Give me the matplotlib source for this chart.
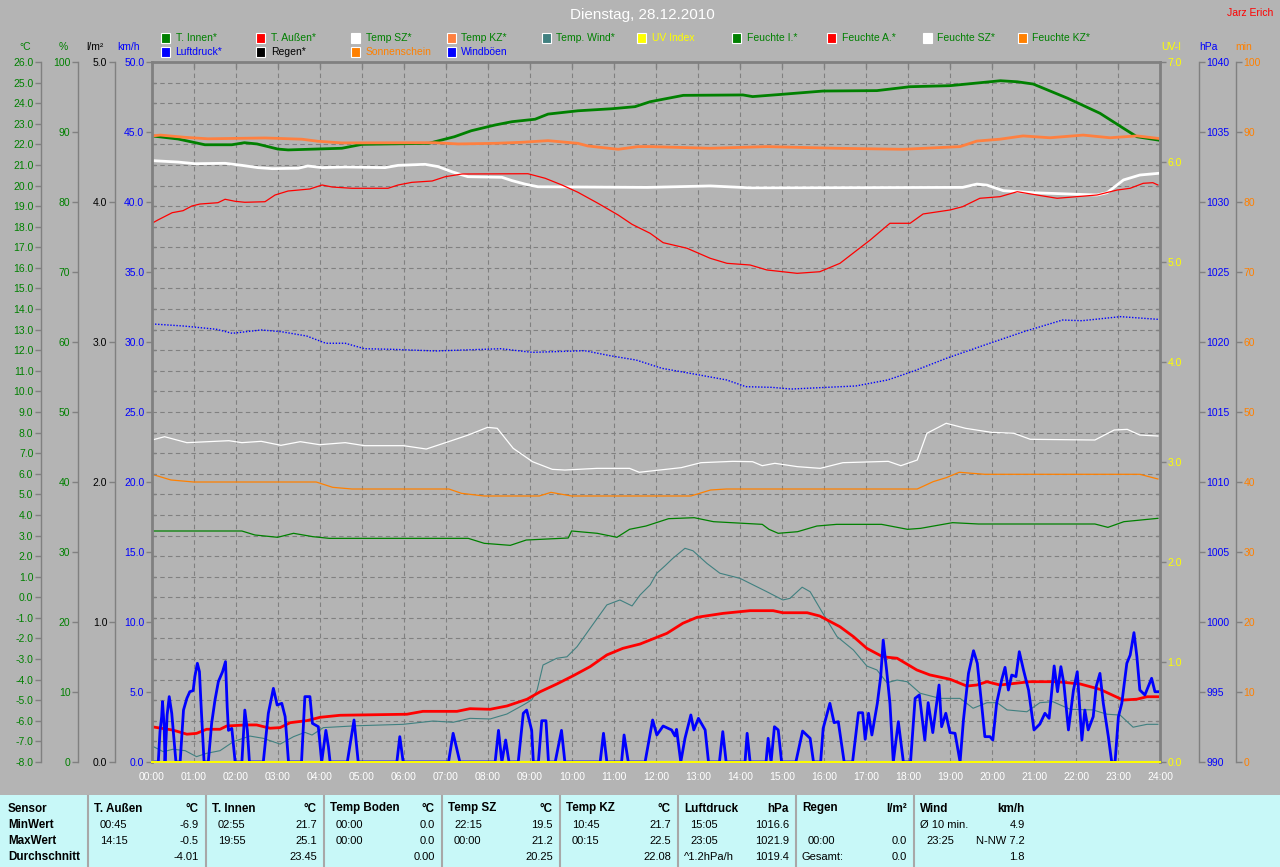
import numpy as np
import matplotlib
matplotlib.use('Agg')
import matplotlib.pyplot as plt
from matplotlib.ticker import FixedLocator, FuncFormatter, NullLocator
from matplotlib.patches import Rectangle
from matplotlib.lines import Line2D

# ---------------- data ----------------
T_INNEN_H = [0, 0.62, 1.26, 1.9, 2.2, 2.5, 3.0, 3.24, 4.52, 5.0, 6.6, 6.74, 7.2, 7.6, 8.17, 8.57, 9.12, 9.43,
             10.14, 10.95, 11.5, 11.86, 12.65, 14.07, 14.3, 15.0, 15.98, 17.26, 18.05, 19.0, 19.8, 20.2, 20.6,
             20.98, 21.8, 22.57, 23.13, 23.45, 23.95]
T_INNEN = [22.41, 22.26, 21.98, 21.98, 22.08, 22.02, 21.77, 21.73, 21.81, 22.0, 22.05, 22.13, 22.37, 22.66,
           22.94, 23.1, 23.22, 23.47, 23.63, 23.73, 23.83, 24.07, 24.38, 24.40, 24.32, 24.43, 24.59, 24.61,
           24.8, 24.85, 25.01, 25.09, 25.04, 24.93, 24.24, 23.51, 22.78, 22.37, 22.21]

T_KZ_H = [0, 0.2, 0.79, 1.33, 2.69, 3.57, 3.95, 4.52, 6.74, 7.29, 8.17, 8.8, 9.43, 10.14, 10.38, 11.1, 11.57,
          11.86, 13.29, 14.64, 16.3, 17.88, 19.24, 19.64, 20.19, 20.74, 21.38, 22.17, 22.81, 23.45, 23.95]
T_KZ = [22.41, 22.45, 22.34, 22.27, 22.31, 22.25, 22.15, 22.07, 22.08, 22.02, 22.05, 22.10, 22.18, 22.05,
        21.92, 21.76, 21.89, 21.89, 21.81, 21.89, 21.81, 21.76, 21.89, 22.16, 22.25, 22.41, 22.32, 22.45,
        22.32, 22.41, 22.29]

T_SZ_H = [0, 0.62, 1.02, 1.74, 2.14, 2.52, 2.86, 3.48, 3.71, 4.05, 4.6, 5.55, 5.86, 6.5, 6.81, 7.14, 7.52,
          8.33, 8.57, 8.88, 9.19, 11.8, 13.29, 14.24, 19.3, 19.64, 19.88, 20.27, 20.98, 22.5, 22.74, 23.13,
          23.52, 23.95]
T_SZ = [21.21, 21.14, 21.06, 21.08, 20.98, 20.87, 20.82, 20.84, 20.95, 20.87, 20.90, 20.87, 20.98, 21.03,
        20.92, 20.67, 20.43, 20.40, 20.24, 20.07, 19.94, 19.91, 19.98, 19.89, 19.91, 20.07, 20.02, 19.75,
        19.65, 19.54, 19.65, 20.27, 20.51, 20.59]

T_AUSSEN_H = [0, 0.5, 0.83, 1.06, 1.3, 1.62, 1.78, 2.25, 2.49, 2.81, 3.05, 3.29, 3.69, 4.0, 4.48, 6.07, 6.45,
              7.26, 7.57, 8.05, 8.45, 8.93, 9.24, 9.64, 10.02, 10.43, 10.83, 11.21, 11.62, 12.26, 12.64, 12.98,
              13.6, 14.24, 14.79, 15.02, 15.6, 15.9, 16.38, 16.7, 17.02, 17.4, 17.74, 18.21, 18.52, 19.0, 19.4,
              19.64, 19.88, 20.19, 20.9, 21.55, 22.1, 22.57, 23.12, 23.45, 23.69, 23.95]
T_AUSSEN = [-6.29, -6.45, -6.65, -6.61, -6.41, -6.41, -6.25, -6.2, -6.2, -6.36, -6.33, -6.09, -5.99, -5.83,
            -5.73, -5.68, -5.54, -5.54, -5.41, -5.44, -5.28, -4.95, -4.59, -4.21, -3.82, -3.37, -2.8, -2.48,
            -2.27, -1.75, -1.26, -0.97, -0.78, -0.65, -0.65, -0.75, -0.75, -0.91, -1.43, -1.91, -2.48, -2.89,
            -2.96, -3.53, -3.77, -3.98, -4.31, -4.26, -4.1, -4.26, -4.1, -4.1, -4.21, -4.47, -4.99, -4.95,
            -4.83, -4.83]

T_WIND_H = [0, 0.27, 0.5, 0.79, 1.06, 1.3, 1.62, 1.94, 2.33, 2.65, 3.05, 3.37, 3.64, 3.81, 4.08, 4.87, 5.98,
            6.69, 7.17, 7.57, 8.05, 8.45, 8.84, 9.04, 9.17, 9.31, 9.64, 9.88, 10.12, 10.43, 10.83, 11.14, 11.43,
            11.62, 11.86, 12.02, 12.21, 12.4, 12.69, 12.88, 13.21, 13.52, 14.0, 14.64, 15.02, 15.19, 15.48,
            15.67, 15.95, 16.31, 16.7, 17.02, 17.26, 17.5, 17.74, 17.98, 18.29, 18.76, 19.24, 19.55, 19.88,
            20.12, 20.36, 20.83, 21.14, 21.45, 21.86, 22.4, 22.74, 23.05, 23.36, 23.69, 23.95]
T_WIND = [-7.22, -7.5, -7.38, -7.45, -7.74, -7.58, -7.45, -7.01, -6.74, -6.85, -7.13, -6.77, -6.56, -6.69,
          -6.33, -6.24, -6.17, -6.01, -6.07, -5.88, -5.91, -5.67, -5.23, -4.99, -4.5, -3.29, -2.96, -2.89,
          -2.4, -1.51, -0.37, -0.13, -0.42, 0.11, 0.6, 1.17, 1.52, 1.89, 2.38, 2.26, 1.65, 1.17, 0.92, 0.27,
          -0.13, -0.05, 0.49, 0.27, -0.7, -1.91, -2.56, -3.34, -3.53, -4.15, -4.02, -4.1, -4.66, -4.91, -4.91,
          -5.39, -5.12, -5.12, -5.47, -5.56, -5.12, -5.07, -5.44, -5.47, -5.68, -5.72, -6.31, -6.17, -6.17]

FEUCHTE_A_H = [0, 0.14, 0.48, 0.74, 0.95, 1.14, 1.57, 1.74, 1.98, 2.21, 2.69, 2.93, 3.24, 3.76, 4.05, 4.29,
               4.76, 5.62, 5.86, 6.19, 6.67, 6.98, 7.38, 8.95, 9.36, 9.76, 10.14, 10.62, 11.1, 11.43, 11.86,
               12.17, 12.74, 13.29, 13.69, 14.24, 14.64, 15.36, 15.9, 16.38, 16.79, 17.1, 17.57, 18.05, 18.36,
               19.0, 19.3, 19.71, 20.19, 20.6, 21.07, 21.55, 22.5, 22.98, 23.29, 23.6, 23.83, 23.95]
FEUCHTE_A = [76.96, 77.43, 78.47, 78.76, 79.43, 79.71, 79.9, 80.39, 80.1, 79.96, 80.04, 81.0, 81.57, 81.86,
             82.43, 82.14, 81.96, 81.96, 82.43, 82.81, 83.0, 83.61, 84.0, 84.04, 83.39, 82.43, 81.39, 79.81,
             78.14, 76.81, 75.53, 74.19, 73.39, 71.96, 71.24, 71.0, 70.29, 69.81, 70.04, 71.24, 73.14, 74.57,
             76.96, 76.96, 78.29, 78.86, 79.33, 80.53, 80.76, 81.47, 81.0, 80.53, 81.0, 81.71, 81.96, 82.67,
             82.76, 82.43]

FEUCHTE_SZ_H = [0, 0.3, 0.83, 1.83, 2.14, 2.6, 3.07, 3.53, 3.99, 4.6, 5.06, 5.99, 6.53, 7.06, 7.53, 7.99,
                8.22, 8.6, 9.06, 9.53, 9.83, 10.6, 11.37, 11.6, 12.6, 13.07, 13.83, 14.3, 14.53, 14.83, 15.37,
                15.91, 16.45, 17.53, 17.83, 18.22, 18.45, 18.91, 19.37, 19.98, 20.52, 20.91, 22.45, 22.91,
                23.22, 23.52, 23.95]
FEUCHTE_SZ = [46.0, 46.47, 45.62, 45.9, 45.62, 45.81, 45.24, 45.76, 45.33, 45.62, 45.19, 45.19, 44.71, 45.76,
              46.71, 47.81, 47.67, 44.81, 42.9, 41.81, 41.71, 41.95, 41.95, 41.39, 42.05, 42.76, 42.95, 42.9,
              42.33, 42.67, 42.19, 41.95, 42.76, 42.95, 42.33, 43.14, 46.96, 48.39, 47.67, 47.1, 46.96, 46.1,
              46.0, 47.43, 47.52, 46.71, 46.57]

FEUCHTE_KZ_H = [0, 0.45, 0.99, 3.91, 4.3, 4.76, 7.07, 7.37, 7.91, 9.22, 9.5, 9.99, 12.83, 13.3, 13.68, 18.22,
                18.6, 18.91, 19.22, 19.83, 23.52, 23.95]
FEUCHTE_KZ = [41.1, 40.29, 40.0, 40.0, 39.24, 39.0, 39.0, 38.38, 38.0, 38.0, 38.52, 38.0, 38.0, 38.86, 39.0,
              39.0, 40.05, 40.62, 41.39, 41.1, 41.1, 40.43]

FEUCHTE_I_H = [0, 2.14, 2.45, 2.99, 3.37, 3.83, 4.22, 7.53, 7.91, 8.53, 8.91, 9.91, 9.99, 10.6, 11.07, 11.37,
               11.76, 12.3, 12.91, 13.37, 14.53, 14.69, 14.91, 15.37, 15.83, 16.3, 17.37, 17.99, 18.3, 19.06,
               19.68, 22.45, 22.76, 23.14, 23.95]
FEUCHTE_I = [33.0, 33.0, 32.43, 32.1, 32.67, 32.19, 31.95, 31.95, 31.24, 30.95, 31.71, 32.0, 33.0, 32.67,
             32.1, 33.24, 33.71, 34.76, 34.9, 34.33, 33.95, 33.24, 32.67, 32.9, 33.71, 33.95, 33.95, 33.24,
             33.38, 34.19, 34.0, 34.0, 33.52, 34.33, 34.81]

LUFTDRUCK_H = [0, 0.76, 1.53, 1.91, 2.6, 3.07, 3.68, 4.14, 4.6, 5.06, 5.68, 6.76, 8.3, 9.06, 10.3, 10.91,
               11.53, 12.14, 12.91, 13.68, 14.14, 14.76, 15.22, 16.76, 17.52, 18.14, 18.91, 19.83, 20.76,
               21.68, 22.14, 23.06, 23.95]
LUFTDRUCK = [1021.29, 1021.14, 1020.91, 1020.62, 1020.86, 1020.74, 1020.43, 1019.91, 1019.91, 1019.52,
             1019.48, 1019.36, 1019.52, 1019.26, 1019.38, 1019.02, 1018.71, 1018.12, 1017.71, 1017.29,
             1016.81, 1016.76, 1016.64, 1016.86, 1017.29, 1017.93, 1018.83, 1019.79, 1020.74, 1021.57,
             1021.52, 1021.81, 1021.62]

WINDBOEEN = [(0, 0), (0.15, 0), (0.19, 2.17), (0.23, 3.24), (0.25, 4.31), (0.29, 2.52), (0.31, 0), (0.36, 3.36),
             (0.41, 4.67), (0.47, 3.48), (0.57, 0), (0.67, 0), (0.75, 3.71), (0.83, 4.55), (0.9, 5.02),
             (0.98, 5.1), (1.02, 6.1), (1.08, 7.05), (1.13, 6.45), (1.17, 3.95), (1.24, 0), (1.34, 0),
             (1.42, 2.76), (1.5, 4.43), (1.58, 5.74), (1.68, 6.45), (1.75, 7.17), (1.79, 3.95), (1.82, 2.26),
             (1.9, 2.4), (1.98, 0), (2.14, 0), (2.21, 3.71), (2.27, 2.26), (2.32, 0), (2.65, 0), (2.77, 3.48),
             (2.89, 5.26), (2.98, 4.07), (3.09, 4.19), (3.17, 3.24), (3.25, 0), (3.56, 0), (3.64, 4.67),
             (3.76, 4.67), (3.82, 2.76), (3.96, 2.52), (4.04, 0), (4.14, 2.26), (4.2, 1.1), (4.24, 0), (4.65, 0),
             (4.81, 3.0), (4.91, 0), (5.83, 0), (5.9, 1.81), (5.98, 0), (7.06, 0), (7.17, 2.05), (7.33, 0),
             (8.17, 0), (8.25, 2.26), (8.33, 0), (8.42, 1.57), (8.5, 0), (8.72, 0), (8.84, 3.48), (8.92, 3.71),
             (9.04, 2.26), (9.08, 0), (9.2, 0), (9.28, 2.95), (9.38, 2.95), (9.44, 0), (9.6, 0), (9.75, 2.26),
             (9.83, 0), (10.67, 0), (10.75, 2.05), (10.83, 0), (11.18, 0), (11.24, 1.93), (11.34, 0),
             (11.74, 0), (11.92, 3.0), (12.02, 1.93), (12.17, 2.57), (12.37, 2.29), (12.45, 1.86), (12.49, 2.33),
             (12.59, 0), (12.69, 1.69), (12.83, 3.36), (12.9, 2.29), (13.01, 3.12), (13.17, 2.29), (13.25, 0),
             (13.51, 0), (13.59, 2.17), (13.67, 0), (14.12, 0), (14.17, 2.05), (14.24, 0), (14.62, 0),
             (14.67, 1.69), (14.74, 0), (14.82, 2.52), (14.91, 2.29), (14.99, 0), (15.33, 0), (15.49, 2.21),
             (15.67, 1.69), (15.75, 0), (15.92, 0), (15.98, 2.4), (16.14, 4.19), (16.24, 2.81), (16.34, 2.88),
             (16.48, 0), (16.68, 0), (16.82, 3.52), (16.92, 3.52), (16.98, 1.62), (17.06, 3.48), (17.14, 1.93),
             (17.27, 4.19), (17.35, 6.1), (17.41, 8.71), (17.49, 6.57), (17.57, 4.19), (17.65, 0), (17.77, 2.88),
             (17.89, 0), (18.06, 0), (18.17, 4.55), (18.27, 4.79), (18.4, 1.57), (18.48, 4.24), (18.59, 2.1),
             (18.74, 5.5), (18.8, 2.52), (18.9, 3.48), (19.0, 2.1), (19.12, 2.05), (19.24, 0), (19.32, 3.0),
             (19.44, 6.33), (19.56, 7.95), (19.65, 7.05), (19.75, 4.19), (19.83, 1.81), (19.95, 1.81),
             (20.02, 1.57), (20.11, 4.19), (20.23, 5.86), (20.31, 6.76), (20.39, 5.14), (20.47, 6.21),
             (20.57, 6.1), (20.65, 7.88), (20.75, 6.57), (20.87, 5.14), (21.0, 2.29), (21.14, 2.71),
             (21.26, 3.48), (21.36, 3.12), (21.48, 6.86), (21.56, 5.02), (21.64, 6.81), (21.71, 5.62),
             (21.82, 2.29), (21.94, 5.14), (22.03, 6.45), (22.14, 1.57), (22.21, 3.71), (22.29, 2.29),
             (22.41, 3.24), (22.48, 5.38), (22.57, 6.33), (22.65, 4.19), (22.77, 1.81), (22.85, 0), (22.93, 0),
             (23.01, 3.24), (23.09, 4.19), (23.21, 7.05), (23.29, 7.64), (23.38, 9.24), (23.45, 7.52),
             (23.52, 5.14), (23.64, 4.79), (23.8, 5.98), (23.88, 5.02), (23.95, 5.02)]

REGEN_H = [0, 23.95]
REGEN = [0.0, 0.0]
SONNE_H = [0, 23.95]
SONNE = [0.0, 0.0]
UV_H = [0, 24]
UV = [0.0, 0.0]

HOURS = list(range(25))
HOUR_LABELS = [f"{h:02d}:00" for h in HOURS]

LEGEND_ROW1 = [("T. Innen*", "#008000", "#008000"), ("T. Außen*", "#FF0000", "#008000"),
               ("Temp SZ*", "#FFFFFF", "#008000"), ("Temp KZ*", "#FF8040", "#008000"),
               ("Temp. Wind*", "#408080", "#008000"), ("UV Index", "#FFFF00", "#FFFF00"),
               ("Feuchte I.*", "#008000", "#008000"), ("Feuchte A.*", "#FF0000", "#008000"),
               ("Feuchte SZ*", "#FFFFFF", "#008000"), ("Feuchte KZ*", "#FF8000", "#008000")]
LEGEND_ROW2 = [("Luftdruck*", "#0000FF", "#0000FF"), ("Regen*", "#000000", "#000000"),
               ("Sonnenschein", "#FF8000", "#FF8000"), ("Windböen", "#0000FF", "#0000FF")]

TABLE_ROWS = ["Sensor", "MinWert", "MaxWert", "Durchschnitt"]
TABLE_COLS = [
    ("T. Außen", "°C", [("00:45", "-6.9"), ("14:15", "-0.5"), ("", "-4.01")]),
    ("T. Innen", "°C", [("02:55", "21.7"), ("19:55", "25.1"), ("", "23.45")]),
    ("Temp Boden", "°C", [("00:00", "0.0"), ("00:00", "0.0"), ("", "0.00")]),
    ("Temp SZ", "°C", [("22:15", "19.5"), ("00:00", "21.2"), ("", "20.25")]),
    ("Temp KZ", "°C", [("10:45", "21.7"), ("00:15", "22.5"), ("", "22.08")]),
    ("Luftdruck", "hPa", [("15:05", "1016.6"), ("23:05", "1021.9"), ("^1.2hPa/h", "1019.4")]),
    ("Regen", "l/m²", [("", ""), ("00:00", "0.0"), ("Gesamt:", "0.0")]),
    ("Wind", "km/h", [("Ø 10 min.", "4.9"), ("23:25", "N-NW 7.2"), ("", "1.8")]),
]

# ---------------- style ----------------
W, H = 1280, 867
BG = "#B4B4B4"
AXC = "#808080"
GREEN = "#008000"
BLUE = "#0000FF"
ORANGE = "#FF8000"
YELLOW = "#FFFF00"
plt.rcParams['font.family'] = ['Liberation Sans', 'DejaVu Sans']
TS = 7.5
TBL_HEAD = 8.4
TBL_VAL = 8.0


def fx(px):
    return px / W


def fy(py):
    return 1 - py / H


fig = plt.figure(figsize=(12.8, 8.67), dpi=100, facecolor=BG)
L, R, T, B = 152, 1160, 62, 762
rect = [fx(L), fy(B), (R - L) / W, (B - T) / H]
axT = fig.add_axes(rect)
axT.set_facecolor(BG)
axT.set_xlim(0, 24)

axP = axT.twinx()
axH = axT.twinx()
axR = axT.twinx()
axM = axT.twinx()
axW = axT.twinx()
axU = axT.twinx()


def pos(px):
    return (px - L) / (R - L)


def style_axis(ax, side, p, lo, hi, step, color, fmt, lw=1.0, minor=None):
    ax.set_ylim(lo, hi)
    for s in ax.spines.values():
        s.set_visible(False)
    sp = ax.spines[side]
    sp.set_visible(True)
    sp.set_position(('axes', p))
    sp.set_color(AXC)
    sp.set_linewidth(lw)
    if side == 'left':
        ax.yaxis.tick_left()
    else:
        ax.yaxis.tick_right()
    ax.yaxis.set_major_locator(FixedLocator(np.arange(lo, hi + step * 0.5, step)))
    ax.yaxis.set_major_formatter(FuncFormatter(lambda v, _p: fmt.format(v)))
    ax.tick_params(axis='y', which='major', direction='out', length=4, width=1, color=AXC,
                   labelcolor=color, labelsize=TS, pad=1.5)
    if minor is not None:
        ax.yaxis.set_minor_locator(FixedLocator(minor))
        ax.tick_params(axis='y', which='minor', direction='in', length=3, width=1, color=AXC)
    else:
        ax.yaxis.set_minor_locator(NullLocator())


style_axis(axT, 'left', pos(41), -8, 26, 1, GREEN, "{:.1f}")
axT.spines['top'].set_visible(True)
axT.spines['top'].set_color(AXC)
axT.spines['top'].set_linewidth(2.0)
style_axis(axP, 'left', pos(78), 0, 100, 10, GREEN, "{:.0f}")
style_axis(axR, 'left', pos(115), 0, 5, 1, "#000000", "{:.1f}")
style_axis(axW, 'left', 0.0, 0, 50, 5, BLUE, "{:.1f}", lw=2.0, minor=np.linspace(0, 50, 35))
style_axis(axU, 'right', 1.0, 0, 7, 1, YELLOW, "{:.1f}", lw=2.0, minor=np.linspace(0, 7, 35))
style_axis(axH, 'right', pos(1199), 990, 1040, 5, BLUE, "{:.0f}")
style_axis(axM, 'right', pos(1236), 0, 100, 10, ORANGE, "{:.0f}")

axT.xaxis.set_major_locator(FixedLocator(HOURS))
axT.set_xticklabels(HOUR_LABELS)
axT.tick_params(axis='x', which='major', top=True, bottom=False, direction='in', length=4, width=1,
                color=AXC, labelcolor='white', labelsize=TS, pad=7, labelbottom=True, labeltop=False)
axT.grid(True, which='major', axis='both', color=AXC, linestyle=(0, (4, 3)), linewidth=0.8)
axT.set_axisbelow(True)

# ---------------- series ----------------
axT.plot(T_WIND_H, T_WIND, color="#408080", lw=0.8)
axT.plot(T_INNEN_H, T_INNEN, color="#008000", lw=2.0)
axT.plot(T_AUSSEN_H, T_AUSSEN, color="#FF0000", lw=2.0)
axT.plot(T_SZ_H, T_SZ, color="#FFFFFF", lw=2.0)
axT.plot(T_KZ_H, T_KZ, color="#FF8040", lw=2.0)

axP.plot(FEUCHTE_I_H, FEUCHTE_I, color="#008000", lw=0.9)
axP.plot(FEUCHTE_A_H, FEUCHTE_A, color="#FF0000", lw=0.9)
axP.plot(FEUCHTE_SZ_H, FEUCHTE_SZ, color="#FFFFFF", lw=0.9)
axP.plot(FEUCHTE_KZ_H, FEUCHTE_KZ, color="#FF8000", lw=0.9)

axH.plot(LUFTDRUCK_H, LUFTDRUCK, color="#0000FF", lw=1.0, linestyle=(0, (1, 1.2)))
axR.plot(REGEN_H, REGEN, color="#000000", lw=1.0)
axM.plot(SONNE_H, SONNE, color="#FF8000", lw=1.0)

wind_h = [p[0] for p in WINDBOEEN]
wind_v = [p[1] for p in WINDBOEEN]
axW.plot(wind_h, wind_v, color="#0000FF", lw=2.0)
axU.plot(UV_H, UV, color="#FFFF00", lw=1.4, clip_on=False, zorder=5)

# ---------------- header texts ----------------
fig.text(fx(642), fy(15), "Dienstag, 28.12.2010", color='white', fontsize=11, ha='center', va='center')
fig.text(fx(1273), fy(12.5), "Jarz Erich", color='#FF0000', fontsize=TS, ha='right', va='center')
for label, xc, col in [("°C", 25, GREEN), ("%", 63, GREEN), ("l/m²", 95, "#000000"), ("km/h", 128.5, BLUE),
                       ("UV-I", 1171.5, YELLOW), ("hPa", 1208, BLUE), ("min", 1243.5, ORANGE)]:
    fig.text(fx(xc), fy(46.7), label, color=col, fontsize=TS, ha='center', va='center')

for row, yc in [(LEGEND_ROW1, 38), (LEGEND_ROW2, 52)]:
    for i, (name, sq, tc) in enumerate(row):
        x0 = 161 + 95.2 * i
        fig.add_artist(Rectangle((fx(x0), fy(yc + 4.5)), 9 / W, 9 / H, transform=fig.transFigure,
                                 facecolor=sq, edgecolor='white', linewidth=0.8))
        fig.text(fx(x0 + 14.5), fy(yc), name, color=tc, fontsize=TS, ha='left', va='center')

# ---------------- bottom table ----------------
fig.add_artist(Rectangle((0, 0), 1, fy(795), transform=fig.transFigure, facecolor="#C8F8F8",
                         edgecolor='none'))
col_left = [88 + 118 * i for i in range(len(TABLE_COLS))]
for xl in col_left:
    fig.add_artist(Line2D([fx(xl), fx(xl)], [fy(796), 0], transform=fig.transFigure, color="#A8A8A8", lw=1.5))
row_y = [808.5, 824.5, 840.5, 856.5]
for name, yy in zip(TABLE_ROWS, row_y):
    fig.text(fx(8), fy(yy), name, fontsize=TBL_HEAD, fontweight='bold', ha='left', va='center', color='black')
for xl, (head, unit, vals) in zip(col_left, TABLE_COLS):
    fig.text(fx(xl + 6), fy(row_y[0]), head, fontsize=TBL_HEAD, fontweight='bold', ha='left', va='center')
    fig.text(fx(xl + 111), fy(row_y[0]), unit, fontsize=TBL_HEAD, fontweight='bold', ha='right', va='center')
    for (left_txt, val), yy in zip(vals, row_y[1:]):
        if left_txt:
            off = 12 if left_txt[:1].isdigit() else 6
            fig.text(fx(xl + off), fy(yy), left_txt, fontsize=TBL_VAL, ha='left', va='center')
        if val:
            fig.text(fx(xl + 111), fy(yy), val, fontsize=TBL_VAL, ha='right', va='center')

fig.savefig("out.png", dpi=100, facecolor=fig.get_facecolor())
